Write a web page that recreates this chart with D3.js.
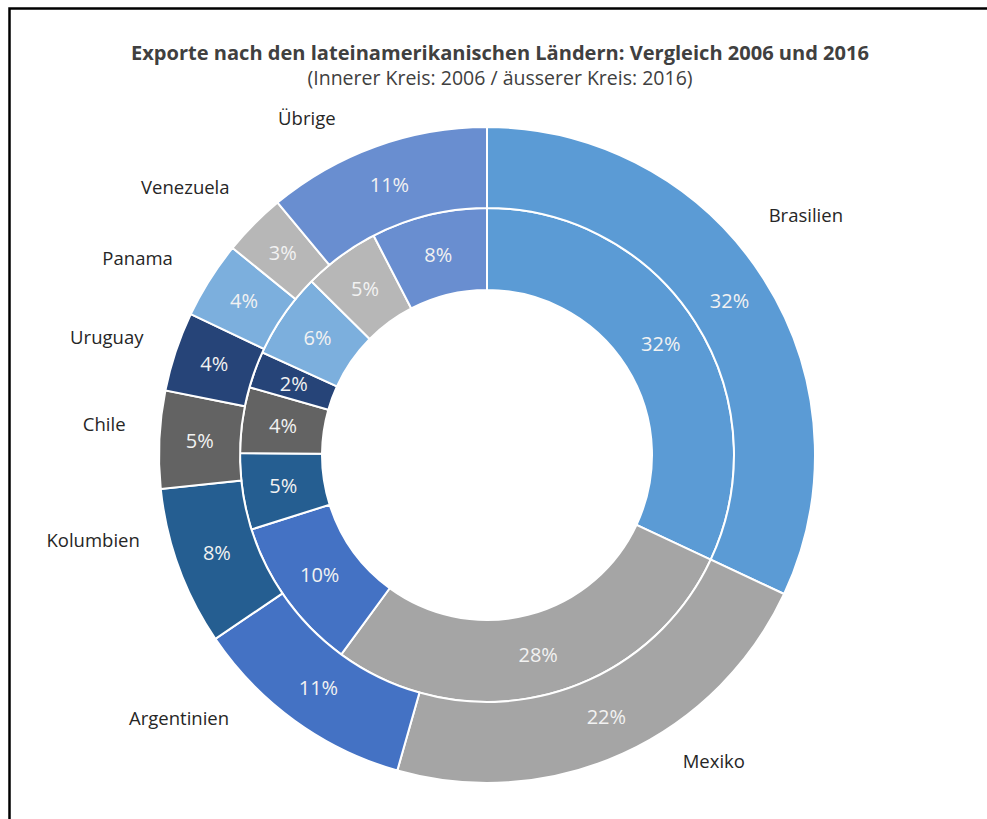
<!DOCTYPE html>
<html>
<head>
<meta charset="utf-8">
<script src="https://cdn.jsdelivr.net/npm/d3@7"></script>
<style>
  body { margin: 0; background: #fff; }
  svg { display: block; font-family: "Open Sans", "DejaVu Sans", sans-serif; }
</style>
</head>
<body>
<script>
// Countries, clockwise from the top
var countries = ["Brasilien", "Mexiko", "Argentinien", "Kolumbien", "Chile", "Uruguay", "Panama", "Venezuela", "Übrige"];

// Share of exports in percent
var share2006 = [32.0, 28.1, 10.1, 5.0, 4.3, 2.4, 5.6, 5.0, 7.6];   // inner ring
var share2016 = [31.9, 22.4, 11.1, 7.8, 4.8, 3.9, 3.8, 3.1, 11.0];  // outer ring

var colors = ["#5B9BD5", "#A5A5A5", "#4472C4", "#255E91", "#636363", "#264478", "#7CAFDD", "#B7B7B7", "#698ED0"];

// Layout
var width = 987, height = 819;
var cx = 487, cy = 455;
var rHole = 165, rMid = 247, rOuter = 328;

// Excel "best fit" puts the category labels a little off the mid angle;
// [angle shift in degrees, radius] for each label
var labelPolar = {
    "Brasilien": [-4.5, 399], "Mexiko": [-12, 381], "Argentinien": [13.6, 405],
    "Kolumbien": [7.8, 403], "Chile": [1.8, 384], "Uruguay": [-1.2, 398],
    "Panama": [-2.9, 401], "Venezuela": [-3.2, 403], "Übrige": [-8.3, 382]
};

var svg = d3.select("body").append("svg")
    .attr("width", width)
    .attr("height", height);

// frame of the chart area
svg.append("path")
    .attr("d", "M9.5," + height + "V8.5H" + width)
    .attr("fill", "none")
    .attr("stroke", "#000")
    .attr("stroke-width", 2.5);

svg.append("text")
    .attr("x", 500).attr("y", 60)
    .attr("text-anchor", "middle")
    .attr("font-size", 20).attr("font-weight", "bold")
    .attr("textLength", 738).attr("lengthAdjust", "spacingAndGlyphs")
    .attr("fill", "#404040")
    .text("Exporte nach den lateinamerikanischen Ländern: Vergleich 2006 und 2016");

svg.append("text")
    .attr("x", 500).attr("y", 85)
    .attr("text-anchor", "middle")
    .attr("font-size", 19.5)
    .attr("fill", "#404040")
    .text("(Innerer Kreis: 2006 / äusserer Kreis: 2016)");

var color = d3.scaleOrdinal().domain(countries).range(colors);

var pie = d3.pie().sort(null).value(function(d) { return d.value; });

function toRows(values) {
    return countries.map(function(c, i) { return {name: c, value: values[i]}; });
}

var g = svg.append("g")
    .attr("transform", "translate(" + cx + "," + cy + ")");

function drawRing(values, r0, r1) {
    var total = d3.sum(values);
    var arcs = pie(toRows(values));
    var arc = d3.arc().innerRadius(r0).outerRadius(r1);
    var ring = g.append("g");

    ring.selectAll("path")
        .data(arcs)
        .join("path")
        .attr("d", arc)
        .attr("fill", function(d) { return color(d.data.name); })
        .attr("stroke", "#fff")
        .attr("stroke-width", 2);

    ring.selectAll("text")
        .data(arcs)
        .join("text")
        .attr("transform", function(d) { return "translate(" + arc.centroid(d) + ")"; })
        .attr("text-anchor", "middle")
        .attr("dy", "0.35em")
        .attr("font-size", 20)
        .attr("fill", "#F2F2F2")
        .text(function(d) { return Math.round(d.data.value / total * 100) + "%"; });

    return arcs;
}

drawRing(share2006, rHole, rMid);
var outerArcs = drawRing(share2016, rMid, rOuter);

// category labels outside the outer ring
g.append("g").selectAll("text")
    .data(outerArcs)
    .join("text")
    .attr("transform", function(d) {
        var p = labelPolar[d.data.name];
        var a = (d.startAngle + d.endAngle) / 2 + p[0] * Math.PI / 180;
        return "translate(" + (p[1] * Math.sin(a)) + "," + (-p[1] * Math.cos(a)) + ")";
    })
    .attr("text-anchor", "middle")
    .attr("dy", "0.35em")
    .attr("font-size", 18.5)
    .attr("fill", "#262626")
    .text(function(d) { return d.data.name; });
</script>
</body>
</html>
